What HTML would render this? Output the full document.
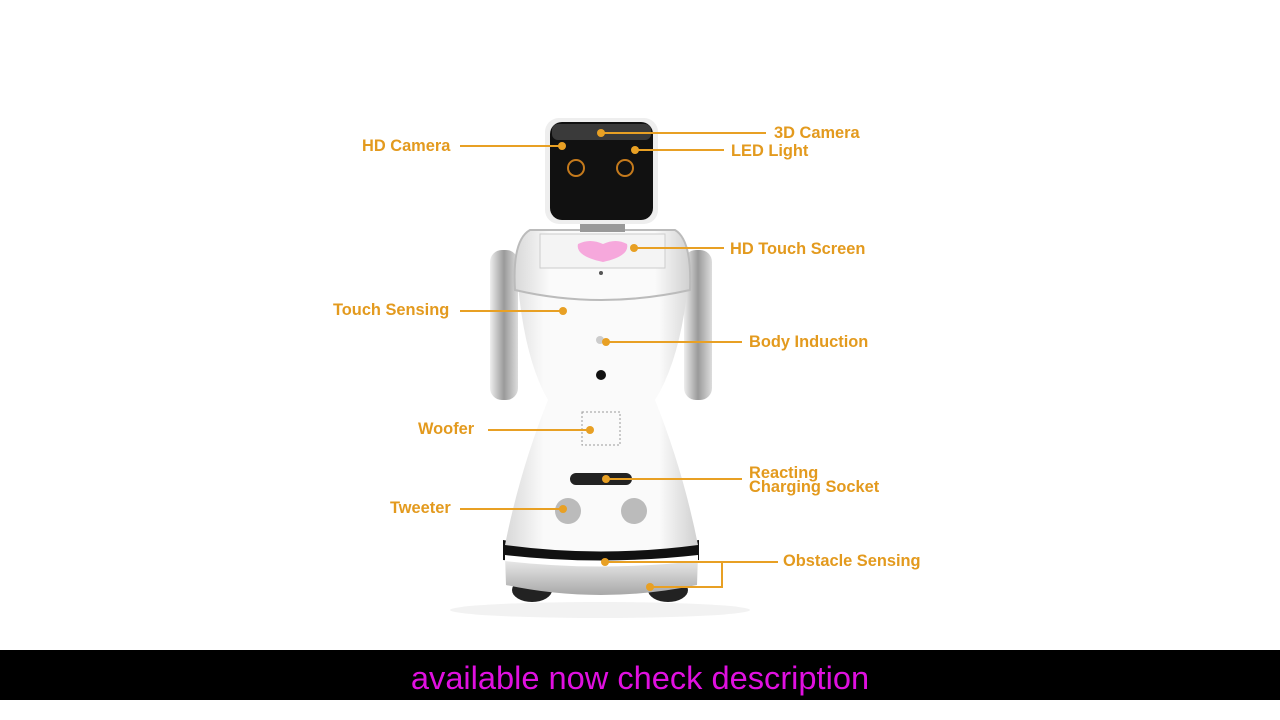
<!DOCTYPE html>
<html><head><meta charset="utf-8"><style>
html,body{margin:0;padding:0;background:#fff;width:1280px;height:720px;overflow:hidden;font-family:"Liberation Sans",sans-serif}
.bar{position:absolute;left:0;top:650px;width:1280px;height:50px;background:#000;color:#e010e0;font-size:32.6px;text-align:center;line-height:56px}
svg{position:absolute;left:0;top:0}
text{font-family:"Liberation Sans",sans-serif;font-weight:bold;font-size:16.4px;fill:#e39a1e}
</style></head><body>
<svg width="1280" height="650" viewBox="0 0 1280 650">
<defs>
<linearGradient id="body" x1="0" x2="1"><stop offset="0" stop-color="#d8d8d8"/><stop offset=".2" stop-color="#fafafa"/><stop offset=".8" stop-color="#fafafa"/><stop offset="1" stop-color="#d0d0d0"/></linearGradient>
<linearGradient id="base" x1="0" y1="0" x2="0" y2="1"><stop offset="0" stop-color="#f2f2f2"/><stop offset="1" stop-color="#a8a8a8"/></linearGradient>
<linearGradient id="arm" x1="0" x2="1"><stop offset="0" stop-color="#eee"/><stop offset=".5" stop-color="#9a9a9a"/><stop offset="1" stop-color="#ddd"/></linearGradient>
</defs>
<ellipse cx="600" cy="610" rx="150" ry="8" fill="#f2f2f2"/>
<rect x="490" y="250" width="28" height="150" rx="12" fill="url(#arm)"/>
<rect x="684" y="250" width="28" height="150" rx="12" fill="url(#arm)"/>
<ellipse cx="532" cy="590" rx="20" ry="12" fill="#222"/>
<ellipse cx="668" cy="590" rx="20" ry="12" fill="#222"/>
<path d="M505 555 L698 555 L697 585 Q600 605 506 585 Z" fill="url(#base)"/>
<path d="M503 540 Q600 555 699 540 L699 560 Q600 570 503 560 Z" fill="#111"/>
<path d="M505 555 Q600 566 698 555 L698 561 Q600 572 505 561 Z" fill="#fff"/>
<path d="M518 285 Q525 360 548 400 Q520 470 505 545 Q600 558 698 545 Q683 470 655 400 Q680 360 688 285 Z" fill="url(#body)"/>
<path d="M515 290 Q512 240 530 230 L675 230 Q692 240 690 290 Q600 310 515 290 Z" fill="url(#body)" stroke="#bbb" stroke-width="2"/>
<rect x="540" y="234" width="125" height="34" fill="#f4f4f4" stroke="#ccc"/>
<path d="M578 244 Q590 238 603 244 Q616 238 627 244 Q630 256 603 262 Q575 256 578 244Z" fill="#f6a8dc"/>
<circle cx="601" cy="273" r="2" fill="#555"/>
<rect x="580" y="218" width="45" height="14" fill="#999"/>
<rect x="545" y="118" width="113" height="106" rx="14" fill="#eee"/>
<rect x="550" y="122" width="103" height="98" rx="12" fill="#111"/>
<rect x="552" y="124" width="99" height="16" rx="6" fill="#3a3a3a"/>
<circle cx="576" cy="168" r="8" fill="none" stroke="#c57a1c" stroke-width="2"/>
<circle cx="625" cy="168" r="8" fill="none" stroke="#c57a1c" stroke-width="2"/>
<circle cx="600" cy="340" r="4" fill="#ccc"/>
<circle cx="601" cy="375" r="5" fill="#111"/>
<rect x="582" y="412" width="38" height="33" fill="none" stroke="#999" stroke-width="1" stroke-dasharray="2 2"/>
<rect x="570" y="473" width="62" height="12" rx="6" fill="#222"/>
<circle cx="568" cy="511" r="13" fill="#bbb"/>
<circle cx="634" cy="511" r="13" fill="#bbb"/>
<g stroke="#e8a024" stroke-width="2" fill="none">
<line x1="460" y1="146" x2="562" y2="146"/>
<line x1="601" y1="133" x2="766" y2="133"/>
<line x1="635" y1="150" x2="724" y2="150"/>
<line x1="634" y1="248" x2="724" y2="248"/>
<line x1="460" y1="311" x2="563" y2="311"/>
<line x1="606" y1="342" x2="742" y2="342"/>
<line x1="488" y1="430" x2="590" y2="430"/>
<line x1="606" y1="479" x2="742" y2="479"/>
<line x1="460" y1="509" x2="563" y2="509"/>
<line x1="605" y1="562" x2="778" y2="562"/>
<polyline points="650,587 722,587 722,562"/>
</g>
<g fill="#e8a024">
<circle cx="562" cy="146" r="4"/><circle cx="601" cy="133" r="4"/><circle cx="635" cy="150" r="4"/>
<circle cx="634" cy="248" r="4"/><circle cx="563" cy="311" r="4"/><circle cx="606" cy="342" r="4"/>
<circle cx="590" cy="430" r="4"/><circle cx="606" cy="479" r="4"/><circle cx="563" cy="509" r="4"/>
<circle cx="605" cy="562" r="4"/><circle cx="650" cy="587" r="4"/>
</g>
<text x="362" y="151">HD Camera</text>
<text x="774" y="138">3D Camera</text>
<text x="731" y="156">LED Light</text>
<text x="730" y="254">HD Touch Screen</text>
<text x="333" y="315">Touch Sensing</text>
<text x="749" y="347">Body Induction</text>
<text x="418" y="434">Woofer</text>
<text x="749" y="478">Reacting</text>
<text x="749" y="492">Charging Socket</text>
<text x="390" y="513">Tweeter</text>
<text x="783" y="566">Obstacle Sensing</text>
</svg>
<div class="bar">available now check description</div>
</body></html>
